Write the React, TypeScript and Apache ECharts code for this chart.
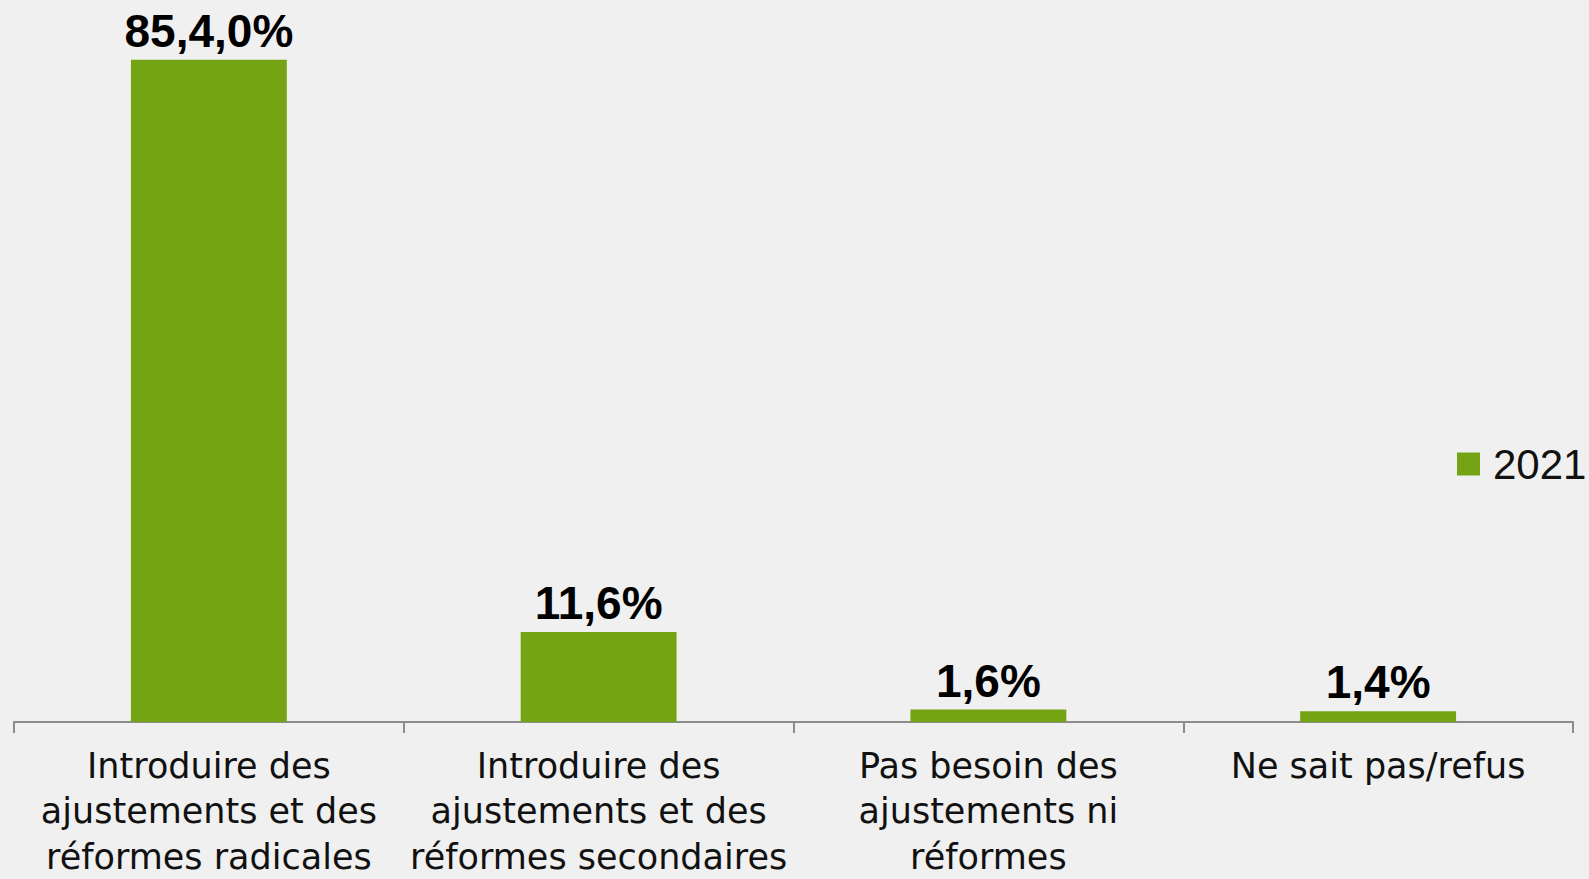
import React, { useEffect, useRef } from "react";
import * as echarts from "echarts";

const categories = [
  "Introduire des\najustements et des\nréformes radicales",
  "Introduire des\najustements et des\nréformes secondaires",
  "Pas besoin des\najustements ni\nréformes",
  "Ne sait pas/refus",
];
const values2021 = [85.4, 11.6, 1.6, 1.4];
const valueLabels = ["85,4,0%", "11,6%", "1,6%", "1,4%"];
const seriesName = "2021";

export default function App() {
  const ref = useRef<HTMLDivElement>(null);
  useEffect(() => {
    const chart = echarts.init(ref.current!, null, { renderer: "svg" });
    chart.setOption({
      animation: false,
      backgroundColor: "#f0f0f0",
      textStyle: { fontFamily: "DejaVu Sans" },
      grid: {
        left: 14,
        right: 16,
        top: 24,
        bottom: 157,
        containLabel: false,
        outerBoundsMode: "none",
      },
      legend: {
        data: [seriesName],
        left: 1452,
        top: 438,
        itemWidth: 23,
        itemHeight: 23,
        icon: "rect",
        textStyle: {
          fontSize: 42,
          color: "#111",
          fontFamily: "Liberation Sans",
          padding: [0, 0, 0, 8],
        },
      },
      xAxis: {
        type: "category",
        data: categories,
        axisLine: { lineStyle: { color: "#8c8c8c", width: 2 } },
        axisTick: { show: true, length: 11, lineStyle: { color: "#8c8c8c", width: 2 } },
        axisLabel: {
          interval: 0,
          fontSize: 35,
          lineHeight: 45.5,
          color: "#111",
          margin: 21,
          fontFamily: "DejaVu Sans",
        },
      },
      yAxis: {
        type: "value",
        min: 0,
        max: 90,
        show: false,
        splitLine: { show: false },
      },
      series: [
        {
          name: seriesName,
          type: "bar",
          data: values2021,
          barWidth: "40%",
          itemStyle: { color: "#74a313" },
          label: {
            show: true,
            position: "top",
            distance: 6,
            fontSize: 46,
            fontWeight: "bold",
            color: "#000",
            fontFamily: "Liberation Sans",
            formatter: (p: any) => valueLabels[p.dataIndex],
          },
        },
      ],
    });
    return () => chart.dispose();
  }, []);
  return <div ref={ref} style={{ width: 1589, height: 879, position: "absolute", left: 0, top: 0 }} />;
}
